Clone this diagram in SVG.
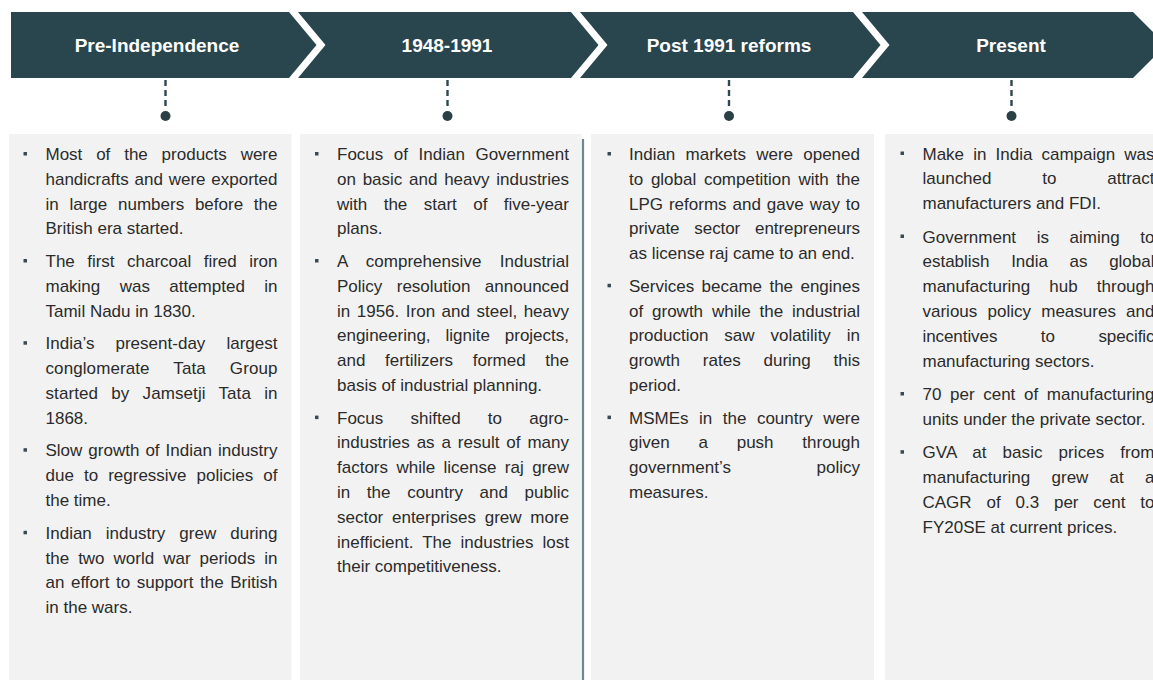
<svg xmlns="http://www.w3.org/2000/svg" width="1153" height="680" viewBox="0 0 1153 680">
<style>
.bn{fill:#29464f}
.box{fill:#f2f2f2}
.h{font-family:"Liberation Sans",Arial,sans-serif;font-size:19px;font-weight:bold;fill:#ffffff;text-anchor:middle}
.t{font-family:"Liberation Sans",Arial,sans-serif;font-size:17px;fill:#2b2b2b}
.b{fill:#3a4a52}
.dash{stroke:#2f4750;stroke-width:2.4;stroke-dasharray:6 4;fill:none}
.dot{fill:#2b3f47}
</style>
<rect x="0" y="0" width="1153" height="680" fill="#ffffff"/>

<g id="stage-pre-independence">
<path class="bn" d="M11,12 H289 L316.5,45 L289,78 H11 Z"/>
<text class="h" x="157" y="52">Pre-Independence</text>
</g>
<g id="stage-1948-1991">
<path class="bn" d="M298,12 H571 L598.5,45 L571,78 H298 L325.5,45 Z"/>
<text class="h" x="447" y="52">1948-1991</text>
</g>
<g id="stage-post-1991">
<path class="bn" d="M580,12 H853 L880.5,45 L853,78 H580 L607.5,45 Z"/>
<text class="h" x="729" y="52">Post 1991 reforms</text>
</g>
<g id="stage-present">
<path class="bn" d="M862,12 H1133 L1166,45 L1133,78 H862 L889.5,45 Z"/>
<text class="h" x="1011" y="52">Present</text>
</g>

<g id="connectors">
<line class="dash" x1="165.5" y1="80" x2="165.5" y2="110"/>
<circle class="dot" cx="165.5" cy="116" r="5"/>
<line class="dash" x1="447.5" y1="80" x2="447.5" y2="110"/>
<circle class="dot" cx="447.5" cy="116" r="5"/>
<line class="dash" x1="729" y1="80" x2="729" y2="110"/>
<circle class="dot" cx="729" cy="116" r="5"/>
<line class="dash" x1="1011.5" y1="80" x2="1011.5" y2="110"/>
<circle class="dot" cx="1011.5" cy="116" r="5"/>
</g>

<g id="box-pre-independence">
<rect class="box" x="9" y="134" width="282.5" height="546"/>
<rect class="b" x="23.5" y="152" width="3.5" height="3.5"/>
<text class="t" x="45.5" y="160" word-spacing="9.1" textLength="232" lengthAdjust="spacing">Most of the products were</text>
<text class="t" x="45.5" y="184.8" word-spacing="1.1" textLength="232" lengthAdjust="spacing">handicrafts and were exported</text>
<text class="t" x="45.5" y="209.6" word-spacing="6" textLength="232" lengthAdjust="spacing">in large numbers before the</text>
<text class="t" x="45.5" y="234.4">British era started.</text>
<rect class="b" x="23.5" y="259" width="3.5" height="3.5"/>
<text class="t" x="45.5" y="267" word-spacing="7.7" textLength="232" lengthAdjust="spacing">The first charcoal fired iron</text>
<text class="t" x="45.5" y="291.8" word-spacing="14.7" textLength="232" lengthAdjust="spacing">making was attempted in</text>
<text class="t" x="45.5" y="316.6">Tamil Nadu in 1830.</text>
<rect class="b" x="23.5" y="341.2" width="3.5" height="3.5"/>
<text class="t" x="45.5" y="349.2" word-spacing="16.3" textLength="232" lengthAdjust="spacing">India’s present-day largest</text>
<text class="t" x="45.5" y="374" word-spacing="19.2" textLength="232" lengthAdjust="spacing">conglomerate Tata Group</text>
<text class="t" x="45.5" y="398.8" word-spacing="8.4" textLength="232" lengthAdjust="spacing">started by Jamsetji Tata in</text>
<text class="t" x="45.5" y="423.6">1868.</text>
<rect class="b" x="23.5" y="448.2" width="3.5" height="3.5"/>
<text class="t" x="45.5" y="456.2" word-spacing="1.3" textLength="232" lengthAdjust="spacing">Slow growth of Indian industry</text>
<text class="t" x="45.5" y="481" word-spacing="5.3" textLength="232" lengthAdjust="spacing">due to regressive policies of</text>
<text class="t" x="45.5" y="505.8">the time.</text>
<rect class="b" x="23.5" y="530.8" width="3.5" height="3.5"/>
<text class="t" x="45.5" y="538.8" word-spacing="9.3" textLength="232" lengthAdjust="spacing">Indian industry grew during</text>
<text class="t" x="45.5" y="563.6" word-spacing="4.3" textLength="232" lengthAdjust="spacing">the two world war periods in</text>
<text class="t" x="45.5" y="588.4" word-spacing="1.8" textLength="232" lengthAdjust="spacing">an effort to support the British</text>
<text class="t" x="45.5" y="613.2">in the wars.</text>
</g>

<g id="box-1948-1991">
<rect class="box" x="300" y="134" width="281.5" height="546"/>
<line x1="583" y1="139" x2="583" y2="680" stroke="#6e8794" stroke-width="2.2"/>
<rect class="b" x="315" y="152" width="3.5" height="3.5"/>
<text class="t" x="337" y="160" word-spacing="5.8" textLength="232" lengthAdjust="spacing">Focus of Indian Government</text>
<text class="t" x="337" y="184.8" word-spacing="2" textLength="232" lengthAdjust="spacing">on basic and heavy industries</text>
<text class="t" x="337" y="209.6" word-spacing="11.7" textLength="232" lengthAdjust="spacing">with the start of five-year</text>
<text class="t" x="337" y="234.4">plans.</text>
<rect class="b" x="315" y="259" width="3.5" height="3.5"/>
<text class="t" x="337" y="267" word-spacing="13.5" textLength="232" lengthAdjust="spacing">A comprehensive Industrial</text>
<text class="t" x="337" y="291.8" word-spacing="9.7" textLength="232" lengthAdjust="spacing">Policy resolution announced</text>
<text class="t" x="337" y="316.6" word-spacing="1.8" textLength="232" lengthAdjust="spacing">in 1956. Iron and steel, heavy</text>
<text class="t" x="337" y="341.4" word-spacing="10.2" textLength="232" lengthAdjust="spacing">engineering, lignite projects,</text>
<text class="t" x="337" y="366.2" word-spacing="15" textLength="232" lengthAdjust="spacing">and fertilizers formed the</text>
<text class="t" x="337" y="391">basis of industrial planning.</text>
<rect class="b" x="315" y="415.6" width="3.5" height="3.5"/>
<text class="t" x="337" y="423.6" word-spacing="22.5" textLength="232" lengthAdjust="spacing">Focus shifted to agro-</text>
<text class="t" x="337" y="448.4" word-spacing="2.2" textLength="232" lengthAdjust="spacing">industries as a result of many</text>
<text class="t" x="337" y="473.2" word-spacing="3.7" textLength="232" lengthAdjust="spacing">factors while license raj grew</text>
<text class="t" x="337" y="498" word-spacing="11.9" textLength="232" lengthAdjust="spacing">in the country and public</text>
<text class="t" x="337" y="522.8" word-spacing="4" textLength="232" lengthAdjust="spacing">sector enterprises grew more</text>
<text class="t" x="337" y="547.6" word-spacing="4.3" textLength="232" lengthAdjust="spacing">inefficient. The industries lost</text>
<text class="t" x="337" y="572.4">their competitiveness.</text>
</g>

<g id="box-post-1991">
<rect class="box" x="591" y="134" width="283" height="546"/>
<rect class="b" x="607.5" y="152" width="3.5" height="3.5"/>
<text class="t" x="629" y="160" word-spacing="5.5" textLength="231" lengthAdjust="spacing">Indian markets were opened</text>
<text class="t" x="629" y="184.8" word-spacing="3" textLength="231" lengthAdjust="spacing">to global competition with the</text>
<text class="t" x="629" y="209.6" word-spacing="1.2" textLength="231" lengthAdjust="spacing">LPG reforms and gave way to</text>
<text class="t" x="629" y="234.4" word-spacing="10.2" textLength="231" lengthAdjust="spacing">private sector entrepreneurs</text>
<text class="t" x="629" y="259.2">as license raj came to an end.</text>
<rect class="b" x="607.5" y="283.8" width="3.5" height="3.5"/>
<text class="t" x="629" y="291.8" word-spacing="2.7" textLength="231" lengthAdjust="spacing">Services became the engines</text>
<text class="t" x="629" y="316.6" word-spacing="4.1" textLength="231" lengthAdjust="spacing">of growth while the industrial</text>
<text class="t" x="629" y="341.4" word-spacing="11.2" textLength="231" lengthAdjust="spacing">production saw volatility in</text>
<text class="t" x="629" y="366.2" word-spacing="18.1" textLength="231" lengthAdjust="spacing">growth rates during this</text>
<text class="t" x="629" y="391">period.</text>
<rect class="b" x="607.5" y="415.6" width="3.5" height="3.5"/>
<text class="t" x="629" y="423.6" word-spacing="5.8" textLength="231" lengthAdjust="spacing">MSMEs in the country were</text>
<text class="t" x="629" y="448.4" word-spacing="24.1" textLength="231" lengthAdjust="spacing">given a push through</text>
<text class="t" x="629" y="473.2" word-spacing="80.8" textLength="231" lengthAdjust="spacing">government’s policy</text>
<text class="t" x="629" y="498">measures.</text>
</g>

<g id="box-present">
<rect class="box" x="885" y="134" width="268" height="546"/>
<rect class="b" x="900.5" y="151.5" width="3.5" height="3.5"/>
<text class="t" x="922.5" y="159.5" word-spacing="4.4" textLength="232" lengthAdjust="spacing">Make in India campaign was</text>
<text class="t" x="922.5" y="184.3" word-spacing="46.1" textLength="232" lengthAdjust="spacing">launched to attract</text>
<text class="t" x="922.5" y="209.1">manufacturers and FDI.</text>
<rect class="b" x="900.5" y="234.5" width="3.5" height="3.5"/>
<text class="t" x="922.5" y="242.5" word-spacing="15.9" textLength="232" lengthAdjust="spacing">Government is aiming to</text>
<text class="t" x="922.5" y="267.3" word-spacing="16.9" textLength="232" lengthAdjust="spacing">establish India as global</text>
<text class="t" x="922.5" y="292.1" word-spacing="14.4" textLength="232" lengthAdjust="spacing">manufacturing hub through</text>
<text class="t" x="922.5" y="316.9" word-spacing="5.5" textLength="232" lengthAdjust="spacing">various policy measures and</text>
<text class="t" x="922.5" y="341.7" word-spacing="38.9" textLength="232" lengthAdjust="spacing">incentives to specific</text>
<text class="t" x="922.5" y="366.5">manufacturing sectors.</text>
<rect class="b" x="900.5" y="392" width="3.5" height="3.5"/>
<text class="t" x="922.5" y="400" word-spacing="3.9" textLength="232" lengthAdjust="spacing">70 per cent of manufacturing</text>
<text class="t" x="922.5" y="424.8">units under the private sector.</text>
<rect class="b" x="900.5" y="450.2" width="3.5" height="3.5"/>
<text class="t" x="922.5" y="458.2" word-spacing="11" textLength="232" lengthAdjust="spacing">GVA at basic prices from</text>
<text class="t" x="922.5" y="483" word-spacing="16.5" textLength="232" lengthAdjust="spacing">manufacturing grew at a</text>
<text class="t" x="922.5" y="507.8" word-spacing="10.1" textLength="232" lengthAdjust="spacing">CAGR of 0.3 per cent to</text>
<text class="t" x="922.5" y="532.6">FY20SE at current prices.</text>
</g>
</svg>
